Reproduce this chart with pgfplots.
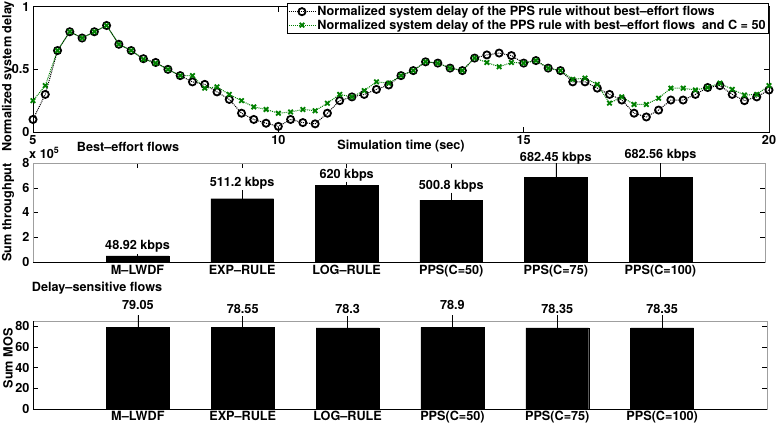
\documentclass[border=0pt]{standalone}
\usepackage{fontspec}
\setmainfont{TeX Gyre Heros}
\usepackage{pgfplots}
\usepackage{pgfplotstable}
\pgfplotsset{compat=1.18}
\definecolor{mgreen}{RGB}{0,128,0}
\newcommand\ff{\bfseries\fontsize{12.7}{14}\selectfont}

\pgfplotstableread{
t a b
5.00 0.10 0.25
5.25 0.30 0.37
5.50 0.65 0.65
5.75 0.80 0.80
6.00 0.75 0.75
6.25 0.80 0.80
6.50 0.85 0.85
6.75 0.70 0.70
7.00 0.65 0.65
7.25 0.585 0.58
7.50 0.555 0.55
7.75 0.50 0.50
8.00 0.45 0.45
8.25 0.40 0.45
8.50 0.38 0.35
8.75 0.32 0.36
9.00 0.26 0.30
9.25 0.15 0.25
9.50 0.10 0.20
9.75 0.07 0.18
10.00 0.045 0.15
10.25 0.10 0.16
10.50 0.075 0.18
10.75 0.065 0.17
11.00 0.15 0.23
11.25 0.25 0.30
11.50 0.28 0.28
11.75 0.30 0.33
12.00 0.34 0.40
12.25 0.375 0.39
12.50 0.45 0.45
12.75 0.49 0.49
13.00 0.56 0.56
13.25 0.55 0.55
13.50 0.51 0.51
13.75 0.49 0.49
14.00 0.59 0.59
14.25 0.615 0.555
14.50 0.63 0.52
14.75 0.61 0.555
15.00 0.55 0.55
15.25 0.57 0.57
15.50 0.51 0.51
15.75 0.49 0.49
16.00 0.40 0.42
16.25 0.40 0.43
16.50 0.35 0.38
16.75 0.30 0.23
17.00 0.255 0.28
17.25 0.15 0.22
17.50 0.12 0.22
17.75 0.175 0.27
18.00 0.255 0.35
18.25 0.255 0.35
18.50 0.30 0.335
18.75 0.355 0.355
19.00 0.37 0.39
19.25 0.30 0.34
19.50 0.25 0.295
19.75 0.28 0.30
20.00 0.335 0.37
}\delaydata

\pgfplotstableread{
x y e
1 0.4892 0.15
2 5.112 0.72
3 6.20 0.30
4 5.008 0.60
5 6.8245 1.15
6 6.8256 1.15
}\thrdata

\pgfplotstableread{
x y e
1 79.05 11.5
2 78.55 11.1
3 78.30 11.3
4 78.90 11.7
5 78.35 12.0
6 78.35 12.0
}\mosdata

\pgfplotsset{
  every axis/.append style={
    scale only axis,
    anchor=south west,
    /pgf/number format/assume math mode=true,
    tick align=inside,
    major tick length=5bp,
    tick style={black, line width=0.5pt},
    axis line style={line width=0.6pt},
    every tick label/.append style={font=\ff},
    label style={font=\ff},
  },
}

\begin{document}
\begin{tikzpicture}[font=\ff]
\path[use as bounding box] (0,0) rectangle (777bp,427bp);

% ---------- top: normalized delay ----------
\begin{axis}[
  at={(33bp,295bp)}, width=736bp, height=125.3bp,
  xmin=5, xmax=20, ymin=0, ymax=1,
  xtick={5,10,15,20}, ytick={0,0.5,1},
  yticklabels={0,0.5,1},
  xlabel={Simulation time (sec)},
  xlabel style={at={(axis description cs:0.5,0)}, anchor=center, yshift=-14bp},
  ylabel={Normalized system delay},
  ylabel style={at={(axis description cs:-0.034,0.443)}, anchor=center},
  legend style={at={(1.0,1.03)}, anchor=north east, draw=black, line width=0.6pt,
    font=\ff, inner sep=1pt, row sep=-1.5pt, fill=white},
  legend cell align=left,
  legend image code/.code={%
    \draw[mark repeat=2, mark phase=2] plot coordinates {(0bp,0bp) (13bp,0bp) (26bp,0bp)};},
]
\addplot[black, densely dotted, line width=1pt, mark=o, mark size=3.6pt,
  mark options={solid, line width=1.8pt}] table[x=t, y=a]{\delaydata};
\addlegendentry{Normalized system delay of the PPS rule without best--effort flows}
\addplot[mgreen, densely dotted, line width=1pt, mark=x, mark size=3.2pt,
  mark options={solid, line width=1.8pt}] table[x=t, y=b]{\delaydata};
\addlegendentry{Normalized system delay of the PPS rule with best--effort flows\ \ and C = 50}
\draw[gray!75, line width=0.6pt] (rel axis cs:1,0) -- (rel axis cs:1,1);
\end{axis}

% ---------- middle: throughput ----------
\begin{axis}[
  at={(33bp,165bp)}, width=732bp, height=99bp,
  clip=false,
  xmin=0, xmax=7, ymin=0, ymax=8,
  xtick={1,2,3,4,5,6},
  xticklabels={{M--LWDF},{EXP--RULE},{LOG--RULE},{PPS(C=50)},{PPS(C=75)},{PPS(C=100)}},
  ytick={0,2,4,6,8},
  axis line style={gray!75},
  ylabel={Sum throughput},
  ylabel style={at={(axis description cs:-0.034,0.5)}, anchor=center},
]
\addplot[ybar, bar width=0.6, fill=black, draw=black,
  error bars/.cd, y dir=both, y explicit, error mark=none,
  error bar style={black, line width=0.6pt}]
  table[x=x, y=y, y error=e]{\thrdata};
\draw[black, line width=0.6pt] (rel axis cs:0,0) -- (rel axis cs:1,0);
\node[font=\ff] at (axis cs:1,1.24) {48.92 kbps};
\node[font=\ff] at (axis cs:2,6.36) {511.2 kbps};
\node[font=\ff] at (axis cs:3,7.03) {620 kbps};
\node[font=\ff] at (axis cs:4,6.09) {500.8 kbps};
\node[font=\ff] at (axis cs:5,8.38) {682.45 kbps};
\node[font=\ff] at (axis cs:6,8.59) {682.56 kbps};
\end{axis}

% ---------- bottom: MOS ----------
\begin{axis}[
  at={(33bp,18bp)}, width=734bp, height=88bp,
  clip=false,
  xmin=0, xmax=7, ymin=0, ymax=85,
  xtick={1,2,3,4,5,6},
  xticklabels={{M--LWDF},{EXP--RULE},{LOG--RULE},{PPS(C=50)},{PPS(C=75)},{PPS(C=100)}},
  xticklabel style={yshift=-1bp, inner sep=1pt},
  ytick={0,20,40,60,80},
  axis line style={gray!75},
  ylabel={Sum MOS},
  ylabel style={at={(axis description cs:-0.034,0.575)}, anchor=center},
]
\addplot[ybar, bar width=0.6, fill=black, draw=black,
  error bars/.cd, y dir=both, y explicit, error mark=none,
  error bar style={black, line width=0.6pt}]
  table[x=x, y=y, y error=e]{\mosdata};
\draw[black, line width=0.6pt] (rel axis cs:0,1) -- (rel axis cs:0,0) -- (rel axis cs:1,0);
\node[font=\ff] at (axis cs:1,100.2) {79.05};
\node[font=\ff] at (axis cs:2,96.4) {78.55};
\node[font=\ff] at (axis cs:3,96.4) {78.3};
\node[font=\ff] at (axis cs:4,100.2) {78.9};
\node[font=\ff] at (axis cs:5,96.4) {78.35};
\node[font=\ff] at (axis cs:6,96.4) {78.35};
\end{axis}

\node[anchor=west, inner sep=0pt, font=\ff] at (29bp,274bp) {x 10\textsuperscript{5}};
\node[font=\ff] at (128bp,280bp) {Best--effort flows};
\node[font=\ff] at (97bp,139bp) {Delay--sensitive flows};
\end{tikzpicture}
\end{document}
